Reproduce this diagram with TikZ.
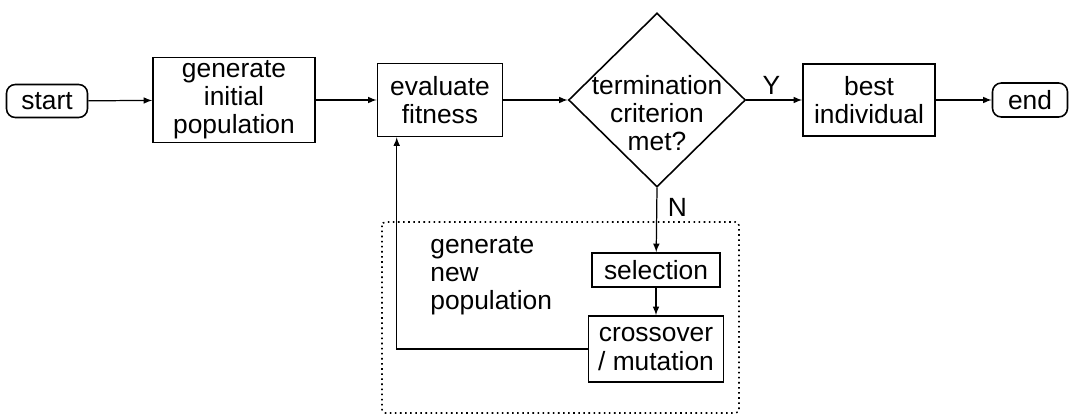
\documentclass[tikz,border=0pt]{standalone}
\usepackage{fontspec}
\setmainfont{Liberation Sans}
\usetikzlibrary{shapes.geometric, arrows}
\tikzstyle{myBox} = [rectangle, text centered, align=center, draw, line width=0.9pt, inner sep=0pt, font=\fontsize{15}{16}\selectfont]
\tikzstyle{myTerm} = [myBox, rounded corners=5pt]
\tikzstyle{myDecision} = [diamond, draw, line width=0.9pt, inner sep=0pt]
\tikzstyle{myText} = [align=center, inner sep=0pt, font=\fontsize{15}{16}\selectfont]
\tikzstyle{myArrow} = [->, >=latex, line width=0.7pt]

\begin{document}
\begin{tikzpicture}[x=0.02cm, y=-0.02cm]
		\useasboundingbox (0,0) rectangle (1072,416);
		% main row
		\node [myTerm, minimum width=1.62cm, minimum height=0.66cm](start) at (47,101){start};
		\node [myBox, minimum width=3.24cm, minimum height=1.7cm](gen) at (234,100){generate\\initial\\population};
		\node [myBox, minimum width=2.5cm, minimum height=1.46cm](eval) at (440,100){evaluate\\fitness};
		\node [myDecision, minimum width=3.54cm, minimum height=3.48cm](crit) at (657,100){};
		\node [myText](critText) at (657,113){termination\\criterion\\met?};
		\node [myBox, minimum width=2.64cm, minimum height=1.44cm](best) at (869,100){best\\individual};
		\node [myTerm, minimum width=1.5cm, minimum height=0.68cm](end) at (1030,100){end};
		% new population
		\draw [dotted, line width=0.9pt, rounded corners=2pt] (382,222) rectangle (739,413);
		\node [myText, align=left, anchor=west](newText) at (430,276){generate\\new\\population};
		\node [myBox, minimum width=2.56cm, minimum height=0.68cm](sel) at (656,270){selection};
		\node [myBox, minimum width=2.7cm, minimum height=1.32cm](cross) at (656,349){crossover\\/ mutation};
		
		\draw [myArrow] (start) -- (gen);
		\draw [myArrow] (gen) -- (eval);
		\draw [myArrow] (eval) -- (crit);
		\draw [myArrow] (crit) -- node[myText, above=3pt, pos=0.45](yes){Y} (best);
		\draw [myArrow] (best) -- (end);
		\draw [myArrow] (crit.south) -- node[myText, right=6pt, pos=0.3](no){N} (sel);
		\draw [myArrow] (sel) -- (cross);
		\draw [myArrow] (cross.west) -| ([xshift=0.4cm]eval.south west);
		\end{tikzpicture}
\end{document}
